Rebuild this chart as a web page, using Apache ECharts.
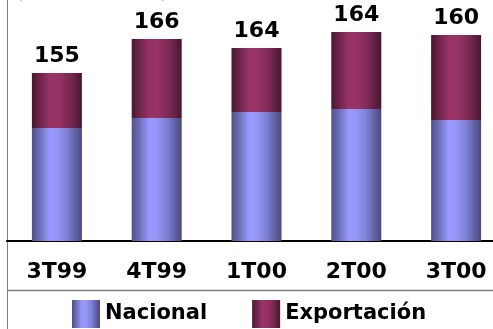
<!DOCTYPE html>
<html>
<head>
<meta charset="utf-8">
<script src="https://cdn.jsdelivr.net/npm/echarts@6/dist/echarts.min.js"></script>
<style>
html,body{margin:0;padding:0;background:#fff;}
#c{width:493px;height:329px;}
</style>
</head>
<body>
<div id="c"></div>
<script>
var categories = ['3T99', '4T99', '1T00', '2T00', '3T00'];
var nacional = [113, 123, 129, 132, 121];
var exportacion = [55, 79, 64, 77, 85];
var totals = [155, 166, 164, 164, 160];
var seriesNames = ['Nacional', 'Exportación'];
var subtitle = '(Miles de toneladas)';

var chart = echarts.init(document.getElementById('c'), null, {renderer: 'canvas'});
var FONT = 'DejaVu Sans, Verdana, sans-serif';

function grad(stops) {
  return new echarts.graphic.LinearGradient(0, 0, 1, 0, stops.map(function (s) {
    return {offset: s[0], color: s[1]};
  }));
}
var blueGrad = grad([[0, '#50508a'], [0.15, '#6c6cb6'], [0.35, '#9999ff'], [0.5, '#9696f8'], [0.7, '#8080d6'], [0.88, '#5e5e9e'], [1, '#4a4a7c']]);
var redGrad = grad([[0, '#4a1830'], [0.15, '#6c2448'], [0.35, '#993366'], [0.55, '#953264'], [0.75, '#7a2a53'], [0.9, '#5c1f3e'], [1, '#481730']]);

chart.setOption({
  animation: false,
  backgroundColor: '#ffffff',
  grid: {left: 7, width: 499, top: 0, height: 241, containLabel: false, outerBoundsMode: 'none'},
  xAxis: {
    type: 'category',
    data: categories,
    axisLine: {show: true, lineStyle: {color: '#000', width: 2}},
    axisTick: {show: false},
    axisLabel: {color: '#000', fontFamily: FONT, fontWeight: 'bold', fontSize: 22, margin: 20}
  },
  yAxis: {
    type: 'value',
    min: 0,
    max: 241,
    axisLine: {show: true, lineStyle: {color: '#808080', width: 1}},
    axisTick: {show: false},
    axisLabel: {show: false},
    splitLine: {show: false}
  },
  legend: {
    left: 67,
    top: 295,
    itemWidth: 28,
    itemHeight: 28,
    itemGap: 45,
    icon: 'rect',
    textStyle: {color: '#000', fontFamily: FONT, fontWeight: 'bold', fontSize: 21},
    data: seriesNames
  },
  graphic: [
    {type: 'line', shape: {x1: 7, y1: 290.5, x2: 493, y2: 290.5}, style: {stroke: '#808080', lineWidth: 1.5}},
    {type: 'line', shape: {x1: 7.5, y1: 0, x2: 7.5, y2: 329}, style: {stroke: '#808080', lineWidth: 1}},
    {type: 'text', x: 17, y: -11, style: {text: subtitle, font: 'bold 13px ' + FONT, fill: '#000'}}
  ],
  series: [
    {
      name: seriesNames[0],
      type: 'bar',
      stack: 'total',
      barWidth: 50,
      data: nacional,
      itemStyle: {color: blueGrad}
    },
    {
      name: seriesNames[1],
      type: 'bar',
      stack: 'total',
      barWidth: 50,
      data: exportacion,
      itemStyle: {color: redGrad},
      label: {
        show: true,
        position: 'top',
        distance: 6,
        color: '#000',
        fontFamily: FONT,
        fontWeight: 'bold',
        fontSize: 22,
        formatter: function (p) { return String(totals[p.dataIndex]); }
      }
    }
  ]
});
</script>
</body>
</html>
